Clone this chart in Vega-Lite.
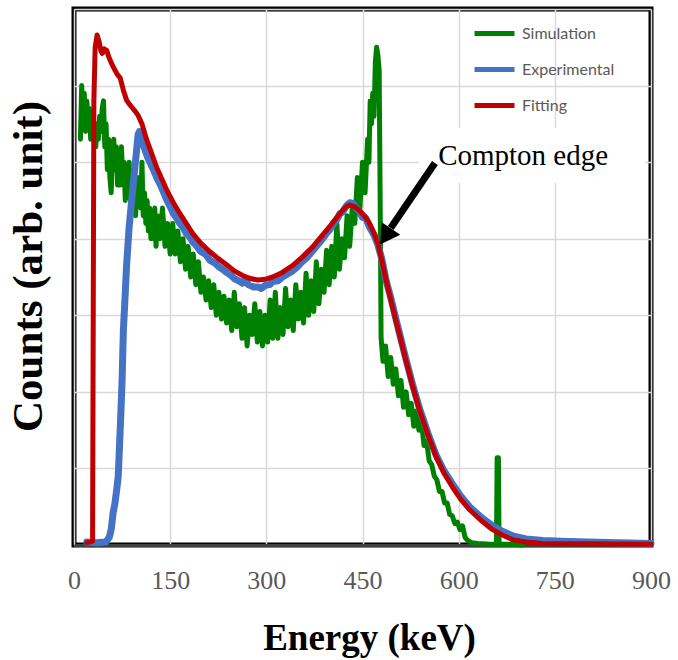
{
  "$schema": "https://vega.github.io/schema/vega-lite/v6.json",
  "width": 577,
  "height": 536,
  "autosize": "none",
  "padding": {"left": 74, "top": 9, "right": 27, "bottom": 115},
  "background": "white",
  "config": {
    "view": {"stroke": "black", "strokeWidth": 5},
    "font": "Liberation Serif"
  },
  "datasets": {
    "curves": [
      {"s":"Simulation","e":10,"c":5.3},{"s":"Simulation","e":12,"c":6.0},{"s":"Simulation","e":14,"c":5.6},{"s":"Simulation","e":16,"c":5.9},{"s":"Simulation","e":18,"c":5.4},{"s":"Simulation","e":20,"c":5.8},{"s":"Simulation","e":22,"c":5.5},{"s":"Simulation","e":24,"c":5.7},{"s":"Simulation","e":26,"c":5.3},{"s":"Simulation","e":28,"c":5.6},{"s":"Simulation","e":30,"c":5.4},{"s":"Simulation","e":32,"c":5.5},{"s":"Simulation","e":34,"c":5.2},{"s":"Simulation","e":36,"c":5.5},{"s":"Simulation","e":38,"c":5.3},{"s":"Simulation","e":40,"c":5.6},{"s":"Simulation","e":42,"c":5.4},{"s":"Simulation","e":44,"c":5.7},{"s":"Simulation","e":46,"c":5.8},{"s":"Simulation","e":48,"c":5.2},{"s":"Simulation","e":50,"c":5.5},{"s":"Simulation","e":52,"c":4.9},{"s":"Simulation","e":54,"c":5.3},{"s":"Simulation","e":56,"c":4.8},{"s":"Simulation","e":58,"c":4.6},{"s":"Simulation","e":60,"c":5.1},{"s":"Simulation","e":62,"c":5.3},{"s":"Simulation","e":64,"c":4.9},{"s":"Simulation","e":66,"c":5.2},{"s":"Simulation","e":68,"c":4.7},{"s":"Simulation","e":70,"c":5.0},{"s":"Simulation","e":72,"c":4.7},{"s":"Simulation","e":74,"c":5.2},{"s":"Simulation","e":76,"c":4.8},{"s":"Simulation","e":78,"c":5.0},{"s":"Simulation","e":80,"c":4.5},{"s":"Simulation","e":82,"c":4.8},{"s":"Simulation","e":84,"c":4.6},{"s":"Simulation","e":86,"c":5.0},{"s":"Simulation","e":88,"c":4.5},{"s":"Simulation","e":90,"c":4.8},{"s":"Simulation","e":92,"c":4.4},{"s":"Simulation","e":94,"c":4.7},{"s":"Simulation","e":96,"c":4.3},{"s":"Simulation","e":98,"c":4.8},{"s":"Simulation","e":100,"c":4.6},{"s":"Simulation","e":102,"c":4.8},{"s":"Simulation","e":104,"c":4.4},{"s":"Simulation","e":106,"c":5.0},{"s":"Simulation","e":108,"c":4.3},{"s":"Simulation","e":110,"c":4.6},{"s":"Simulation","e":112,"c":4.2},{"s":"Simulation","e":114,"c":4.5},{"s":"Simulation","e":116,"c":4.1},{"s":"Simulation","e":118,"c":4.4},{"s":"Simulation","e":120,"c":4.0},{"s":"Simulation","e":122,"c":4.3},{"s":"Simulation","e":124,"c":4.0},{"s":"Simulation","e":126,"c":4.4},{"s":"Simulation","e":128,"c":3.9},{"s":"Simulation","e":130,"c":4.3},{"s":"Simulation","e":134,"c":4.0},{"s":"Simulation","e":138,"c":4.4},{"s":"Simulation","e":142,"c":3.9},{"s":"Simulation","e":146,"c":4.2},{"s":"Simulation","e":150,"c":3.8},{"s":"Simulation","e":154,"c":4.2},{"s":"Simulation","e":158,"c":3.8},{"s":"Simulation","e":162,"c":4.1},{"s":"Simulation","e":166,"c":3.7},{"s":"Simulation","e":170,"c":4.0},{"s":"Simulation","e":174,"c":3.6},{"s":"Simulation","e":178,"c":3.9},{"s":"Simulation","e":182,"c":3.5},{"s":"Simulation","e":186,"c":3.8},{"s":"Simulation","e":190,"c":3.4},{"s":"Simulation","e":194,"c":3.7},{"s":"Simulation","e":198,"c":3.3},{"s":"Simulation","e":202,"c":3.5},{"s":"Simulation","e":206,"c":3.2},{"s":"Simulation","e":210,"c":3.45},{"s":"Simulation","e":214,"c":3.1},{"s":"Simulation","e":218,"c":3.4},{"s":"Simulation","e":222,"c":3.0},{"s":"Simulation","e":226,"c":3.3},{"s":"Simulation","e":230,"c":2.95},{"s":"Simulation","e":234,"c":3.25},{"s":"Simulation","e":238,"c":2.9},{"s":"Simulation","e":242,"c":3.2},{"s":"Simulation","e":246,"c":2.8},{"s":"Simulation","e":250,"c":3.3},{"s":"Simulation","e":254,"c":2.85},{"s":"Simulation","e":258,"c":3.15},{"s":"Simulation","e":262,"c":2.7},{"s":"Simulation","e":266,"c":3.1},{"s":"Simulation","e":270,"c":2.6},{"s":"Simulation","e":274,"c":3.0},{"s":"Simulation","e":278,"c":2.75},{"s":"Simulation","e":282,"c":3.15},{"s":"Simulation","e":286,"c":2.65},{"s":"Simulation","e":290,"c":3.05},{"s":"Simulation","e":294,"c":2.6},{"s":"Simulation","e":298,"c":3.0},{"s":"Simulation","e":302,"c":2.65},{"s":"Simulation","e":306,"c":3.2},{"s":"Simulation","e":310,"c":2.7},{"s":"Simulation","e":314,"c":3.3},{"s":"Simulation","e":318,"c":2.7},{"s":"Simulation","e":322,"c":3.1},{"s":"Simulation","e":326,"c":2.75},{"s":"Simulation","e":330,"c":3.35},{"s":"Simulation","e":334,"c":2.85},{"s":"Simulation","e":338,"c":3.2},{"s":"Simulation","e":342,"c":2.8},{"s":"Simulation","e":346,"c":3.4},{"s":"Simulation","e":350,"c":2.95},{"s":"Simulation","e":354,"c":3.3},{"s":"Simulation","e":358,"c":2.9},{"s":"Simulation","e":362,"c":3.55},{"s":"Simulation","e":366,"c":3.0},{"s":"Simulation","e":370,"c":3.45},{"s":"Simulation","e":374,"c":3.05},{"s":"Simulation","e":378,"c":3.7},{"s":"Simulation","e":382,"c":3.15},{"s":"Simulation","e":386,"c":3.6},{"s":"Simulation","e":390,"c":3.3},{"s":"Simulation","e":394,"c":3.85},{"s":"Simulation","e":398,"c":3.4},{"s":"Simulation","e":402,"c":3.9},{"s":"Simulation","e":406,"c":3.5},{"s":"Simulation","e":410,"c":4.2},{"s":"Simulation","e":414,"c":3.6},{"s":"Simulation","e":418,"c":4.0},{"s":"Simulation","e":422,"c":3.75},{"s":"Simulation","e":426,"c":4.3},{"s":"Simulation","e":430,"c":3.9},{"s":"Simulation","e":434,"c":4.4},{"s":"Simulation","e":438,"c":4.2},{"s":"Simulation","e":442,"c":4.8},{"s":"Simulation","e":446,"c":4.4},{"s":"Simulation","e":450,"c":5.0},{"s":"Simulation","e":454,"c":4.6},{"s":"Simulation","e":458,"c":5.3},{"s":"Simulation","e":460,"c":5.0},{"s":"Simulation","e":462,"c":5.8},{"s":"Simulation","e":464,"c":5.5},{"s":"Simulation","e":466,"c":5.9},{"s":"Simulation","e":468,"c":5.6},{"s":"Simulation","e":470,"c":6.3},{"s":"Simulation","e":472,"c":6.5},{"s":"Simulation","e":474,"c":6.4},{"s":"Simulation","e":476,"c":6.2},{"s":"Simulation","e":478,"c":4.0},{"s":"Simulation","e":479,"c":2.7},{"s":"Simulation","e":482,"c":2.4},{"s":"Simulation","e":486,"c":2.6},{"s":"Simulation","e":490,"c":2.2},{"s":"Simulation","e":494,"c":2.45},{"s":"Simulation","e":498,"c":2.1},{"s":"Simulation","e":502,"c":2.3},{"s":"Simulation","e":506,"c":1.95},{"s":"Simulation","e":510,"c":2.15},{"s":"Simulation","e":514,"c":1.8},{"s":"Simulation","e":518,"c":2.0},{"s":"Simulation","e":522,"c":1.7},{"s":"Simulation","e":526,"c":1.85},{"s":"Simulation","e":530,"c":1.55},{"s":"Simulation","e":534,"c":1.75},{"s":"Simulation","e":538,"c":1.5},{"s":"Simulation","e":542,"c":1.6},{"s":"Simulation","e":546,"c":1.3},{"s":"Simulation","e":550,"c":1.35},{"s":"Simulation","e":554,"c":1.1},{"s":"Simulation","e":558,"c":1.05},{"s":"Simulation","e":562,"c":0.9},{"s":"Simulation","e":566,"c":0.85},{"s":"Simulation","e":570,"c":0.7},{"s":"Simulation","e":574,"c":0.7},{"s":"Simulation","e":578,"c":0.55},{"s":"Simulation","e":582,"c":0.55},{"s":"Simulation","e":586,"c":0.4},{"s":"Simulation","e":590,"c":0.38},{"s":"Simulation","e":594,"c":0.28},{"s":"Simulation","e":598,"c":0.3},{"s":"Simulation","e":602,"c":0.2},{"s":"Simulation","e":606,"c":0.25},{"s":"Simulation","e":610,"c":0.1},{"s":"Simulation","e":614,"c":0.06},{"s":"Simulation","e":620,"c":0.03},{"s":"Simulation","e":630,"c":0.02},{"s":"Simulation","e":650,"c":0.01},{"s":"Simulation","e":659,"c":0.01},{"s":"Simulation","e":660,"c":1.14},{"s":"Simulation","e":662,"c":1.14},{"s":"Simulation","e":663,"c":0.01},{"s":"Simulation","e":680,"c":0.01},{"s":"Simulation","e":700,"c":0.0},

      {"s":"Experimental","e":20,"c":0.04},{"s":"Experimental","e":35,"c":0.03},{"s":"Experimental","e":50,"c":0.04},{"s":"Experimental","e":55,"c":0.1},{"s":"Experimental","e":58,"c":0.2},{"s":"Experimental","e":61,"c":0.42},{"s":"Experimental","e":64,"c":0.55},{"s":"Experimental","e":67,"c":0.75},{"s":"Experimental","e":69,"c":0.9},{"s":"Experimental","e":71,"c":1.3},{"s":"Experimental","e":73,"c":1.7},{"s":"Experimental","e":75,"c":2.15},{"s":"Experimental","e":77,"c":2.8},{"s":"Experimental","e":80,"c":3.3},{"s":"Experimental","e":82,"c":3.65},{"s":"Experimental","e":86,"c":4.15},{"s":"Experimental","e":90,"c":4.5},{"s":"Experimental","e":94,"c":4.85},{"s":"Experimental","e":97,"c":5.1},{"s":"Experimental","e":100,"c":5.36},{"s":"Experimental","e":102,"c":5.4},{"s":"Experimental","e":105,"c":5.3},{"s":"Experimental","e":110,"c":5.18},{"s":"Experimental","e":115,"c":5.06},{"s":"Experimental","e":120,"c":4.97},{"s":"Experimental","e":125,"c":4.88},{"s":"Experimental","e":130,"c":4.78},{"s":"Experimental","e":135,"c":4.7},{"s":"Experimental","e":140,"c":4.6},{"s":"Experimental","e":145,"c":4.5},{"s":"Experimental","e":150,"c":4.42},{"s":"Experimental","e":155,"c":4.33},{"s":"Experimental","e":160,"c":4.27},{"s":"Experimental","e":165,"c":4.2},{"s":"Experimental","e":170,"c":4.15},{"s":"Experimental","e":175,"c":4.07},{"s":"Experimental","e":180,"c":4.03},{"s":"Experimental","e":185,"c":3.96},{"s":"Experimental","e":190,"c":3.92},{"s":"Experimental","e":198,"c":3.83},{"s":"Experimental","e":205,"c":3.8},{"s":"Experimental","e":212,"c":3.72},{"s":"Experimental","e":220,"c":3.68},{"s":"Experimental","e":225,"c":3.64},{"s":"Experimental","e":232,"c":3.6},{"s":"Experimental","e":238,"c":3.56},{"s":"Experimental","e":245,"c":3.52},{"s":"Experimental","e":250,"c":3.48},{"s":"Experimental","e":257,"c":3.45},{"s":"Experimental","e":263,"c":3.42},{"s":"Experimental","e":268,"c":3.47},{"s":"Experimental","e":272,"c":3.4},{"s":"Experimental","e":280,"c":3.37},{"s":"Experimental","e":287,"c":3.37},{"s":"Experimental","e":292,"c":3.35},{"s":"Experimental","e":298,"c":3.39},{"s":"Experimental","e":305,"c":3.4},{"s":"Experimental","e":310,"c":3.44},{"s":"Experimental","e":318,"c":3.45},{"s":"Experimental","e":325,"c":3.5},{"s":"Experimental","e":333,"c":3.54},{"s":"Experimental","e":341,"c":3.58},{"s":"Experimental","e":348,"c":3.63},{"s":"Experimental","e":356,"c":3.7},{"s":"Experimental","e":364,"c":3.76},{"s":"Experimental","e":372,"c":3.84},{"s":"Experimental","e":380,"c":3.92},{"s":"Experimental","e":386,"c":3.98},{"s":"Experimental","e":393,"c":4.06},{"s":"Experimental","e":399,"c":4.12},{"s":"Experimental","e":405,"c":4.2},{"s":"Experimental","e":410,"c":4.25},{"s":"Experimental","e":415,"c":4.33},{"s":"Experimental","e":419,"c":4.35},{"s":"Experimental","e":425,"c":4.43},{"s":"Experimental","e":430,"c":4.47},{"s":"Experimental","e":435,"c":4.46},{"s":"Experimental","e":440,"c":4.4},{"s":"Experimental","e":445,"c":4.36},{"s":"Experimental","e":450,"c":4.28},{"s":"Experimental","e":455,"c":4.27},{"s":"Experimental","e":461,"c":4.15},{"s":"Experimental","e":468,"c":4.05},{"s":"Experimental","e":474,"c":3.92},{"s":"Experimental","e":480,"c":3.74},{"s":"Experimental","e":487,"c":3.45},{"s":"Experimental","e":495,"c":3.2},{"s":"Experimental","e":503,"c":2.92},{"s":"Experimental","e":512,"c":2.62},{"s":"Experimental","e":518,"c":2.42},{"s":"Experimental","e":528,"c":2.1},{"s":"Experimental","e":539,"c":1.78},{"s":"Experimental","e":552,"c":1.46},{"s":"Experimental","e":565,"c":1.17},{"s":"Experimental","e":577,"c":0.97},{"s":"Experimental","e":590,"c":0.8},{"s":"Experimental","e":603,"c":0.64},{"s":"Experimental","e":617,"c":0.5},{"s":"Experimental","e":635,"c":0.36},{"s":"Experimental","e":653,"c":0.25},{"s":"Experimental","e":668,"c":0.18},{"s":"Experimental","e":684,"c":0.12},{"s":"Experimental","e":705,"c":0.08},{"s":"Experimental","e":731,"c":0.06},{"s":"Experimental","e":760,"c":0.05},{"s":"Experimental","e":800,"c":0.04},{"s":"Experimental","e":850,"c":0.03},{"s":"Experimental","e":900,"c":0.02},

      {"s":"Fitting","e":20,"c":0.03},{"s":"Fitting","e":29,"c":0.05},{"s":"Fitting","e":30,"c":3.0},{"s":"Fitting","e":31,"c":5.8},{"s":"Fitting","e":33,"c":6.5},{"s":"Fitting","e":36,"c":6.66},{"s":"Fitting","e":39,"c":6.58},{"s":"Fitting","e":42,"c":6.45},{"s":"Fitting","e":44,"c":6.42},{"s":"Fitting","e":47,"c":6.48},{"s":"Fitting","e":51,"c":6.46},{"s":"Fitting","e":54,"c":6.38},{"s":"Fitting","e":58,"c":6.3},{"s":"Fitting","e":64,"c":6.2},{"s":"Fitting","e":68,"c":6.14},{"s":"Fitting","e":72,"c":6.1},{"s":"Fitting","e":77,"c":5.94},{"s":"Fitting","e":82,"c":5.81},{"s":"Fitting","e":86,"c":5.76},{"s":"Fitting","e":90,"c":5.72},{"s":"Fitting","e":95,"c":5.67},{"s":"Fitting","e":100,"c":5.61},{"s":"Fitting","e":106,"c":5.5},{"s":"Fitting","e":113,"c":5.3},{"s":"Fitting","e":120,"c":5.14},{"s":"Fitting","e":129,"c":4.93},{"s":"Fitting","e":137,"c":4.78},{"s":"Fitting","e":145,"c":4.63},{"s":"Fitting","e":155,"c":4.47},{"s":"Fitting","e":165,"c":4.33},{"s":"Fitting","e":175,"c":4.2},{"s":"Fitting","e":185,"c":4.07},{"s":"Fitting","e":198,"c":3.94},{"s":"Fitting","e":212,"c":3.83},{"s":"Fitting","e":225,"c":3.74},{"s":"Fitting","e":238,"c":3.66},{"s":"Fitting","e":250,"c":3.58},{"s":"Fitting","e":263,"c":3.52},{"s":"Fitting","e":275,"c":3.48},{"s":"Fitting","e":287,"c":3.46},{"s":"Fitting","e":298,"c":3.47},{"s":"Fitting","e":310,"c":3.5},{"s":"Fitting","e":325,"c":3.56},{"s":"Fitting","e":341,"c":3.65},{"s":"Fitting","e":356,"c":3.76},{"s":"Fitting","e":372,"c":3.89},{"s":"Fitting","e":386,"c":4.03},{"s":"Fitting","e":399,"c":4.16},{"s":"Fitting","e":410,"c":4.28},{"s":"Fitting","e":419,"c":4.37},{"s":"Fitting","e":425,"c":4.42},{"s":"Fitting","e":430,"c":4.44},{"s":"Fitting","e":437,"c":4.42},{"s":"Fitting","e":445,"c":4.37},{"s":"Fitting","e":453,"c":4.3},{"s":"Fitting","e":461,"c":4.2},{"s":"Fitting","e":468,"c":4.07},{"s":"Fitting","e":474,"c":3.94},{"s":"Fitting","e":480,"c":3.72},{"s":"Fitting","e":487,"c":3.45},{"s":"Fitting","e":495,"c":3.17},{"s":"Fitting","e":503,"c":2.9},{"s":"Fitting","e":512,"c":2.6},{"s":"Fitting","e":518,"c":2.4},{"s":"Fitting","e":528,"c":2.08},{"s":"Fitting","e":539,"c":1.76},{"s":"Fitting","e":552,"c":1.44},{"s":"Fitting","e":565,"c":1.15},{"s":"Fitting","e":577,"c":0.94},{"s":"Fitting","e":590,"c":0.76},{"s":"Fitting","e":603,"c":0.6},{"s":"Fitting","e":617,"c":0.46},{"s":"Fitting","e":635,"c":0.32},{"s":"Fitting","e":653,"c":0.2},{"s":"Fitting","e":668,"c":0.13},{"s":"Fitting","e":684,"c":0.07},{"s":"Fitting","e":705,"c":0.04},{"s":"Fitting","e":731,"c":0.02},{"s":"Fitting","e":800,"c":0.015},{"s":"Fitting","e":900,"c":0.01}
    ],
    "note": [{"label": "Compton edge", "e0": 537, "e1": 891, "c0": 4.73, "c1": 5.45, "te": 568, "tc": 4.96, "ae0": 563, "ac0": 4.99, "ae1": 494, "ac1": 4.14, "he": 486, "hc": 4.03}]
  },
  "layer": [
    {
      "data": {"name": "note"},
      "mark": {"type": "rect", "fill": "white"},
      "encoding": {
        "x": {"field": "e0", "type": "quantitative", "scale": {"domain": [0, 900]}},
        "x2": {"field": "e1"},
        "y": {"field": "c0", "type": "quantitative", "scale": {"domain": [0, 7]}},
        "y2": {"field": "c1"}
      }
    },
    {
      "data": {"name": "curves"},
      "transform": [{"filter": "datum.s === 'Simulation'"}],
      "mark": {"type": "line", "strokeWidth": 5, "strokeJoin": "round", "strokeCap": "round"},
      "encoding": {
        "x": {"field": "e", "type": "quantitative", "scale": {"domain": [0, 900]},
          "axis": {"title": "Energy (keV)", "values": [0,150,300,450,600,750,900], "grid": true, "gridColor": "#d9d9d9", "gridWidth": 1.5, "ticks": false, "domainColor": "#404040", "domainWidth": 3, "labelFont": "Liberation Serif", "labelFontSize": 26, "labelColor": "#595959", "labelPadding": 22, "labelFlush": false, "labelOverlap": false, "titleFont": "Liberation Serif", "titleFontSize": 37, "titleFontWeight": "bold", "titleColor": "black", "titlePadding": 27, "titleX": 295}},
        "y": {"field": "c", "type": "quantitative", "scale": {"domain": [0, 7]},
          "axis": {"title": "Counts (arb. unit)", "values": [0,1,2,3,4,5,6,7], "labels": false, "ticks": false, "domain": false, "grid": true, "gridColor": "#d9d9d9", "gridWidth": 1.5, "titleFont": "Liberation Serif", "titleFontSize": 43, "titleFontWeight": "bold", "titleColor": "black", "titleAngle": -90, "titleAlign": "center", "titleBaseline": "middle", "titleX": -46, "titleY": 257}},
        "color": {"field": "s", "type": "nominal",
          "scale": {"domain": ["Simulation", "Experimental", "Fitting"], "range": ["#008000", "#4472C4", "#C00000"]},
          "legend": {"title": null, "orient": "none", "legendX": 398, "legendY": 2, "symbolType": "stroke", "symbolSize": 1600, "symbolStrokeWidth": 5, "labelFont": "Lato", "labelFontSize": 16, "labelColor": "#595959", "labelOffset": 5, "rowPadding": 3, "padding": 0}}
      }
    },
    {
      "data": {"name": "curves"},
      "transform": [{"filter": "datum.s === 'Experimental'"}],
      "mark": {"type": "line", "strokeWidth": 7, "strokeJoin": "round", "strokeCap": "round"},
      "encoding": {
        "x": {"field": "e", "type": "quantitative"},
        "y": {"field": "c", "type": "quantitative"},
        "color": {"field": "s", "type": "nominal"}
      }
    },
    {
      "data": {"name": "curves"},
      "transform": [{"filter": "datum.s === 'Fitting'"}],
      "mark": {"type": "line", "strokeWidth": 5, "strokeJoin": "round", "strokeCap": "round"},
      "encoding": {
        "x": {"field": "e", "type": "quantitative"},
        "y": {"field": "c", "type": "quantitative"},
        "color": {"field": "s", "type": "nominal"}
      }
    },
    {
      "data": {"name": "note"},
      "mark": {"type": "text", "font": "Liberation Serif", "fontSize": 29, "align": "left", "baseline": "alphabetic", "color": "black"},
      "encoding": {
        "x": {"field": "te", "type": "quantitative"},
        "y": {"field": "tc", "type": "quantitative"},
        "text": {"field": "label"}
      }
    },
    {
      "data": {"name": "note"},
      "mark": {"type": "rule", "strokeWidth": 7, "color": "black"},
      "encoding": {
        "x": {"field": "ae0", "type": "quantitative"},
        "y": {"field": "ac0", "type": "quantitative"},
        "x2": {"field": "ae1"},
        "y2": {"field": "ac1"}
      }
    },
    {
      "data": {"name": "note"},
      "mark": {"type": "point", "shape": "triangle-up", "filled": true, "size": 500, "color": "black", "opacity": 1, "angle": 214},
      "encoding": {
        "x": {"field": "he", "type": "quantitative"},
        "y": {"field": "hc", "type": "quantitative"}
      }
    }
  ]
}
